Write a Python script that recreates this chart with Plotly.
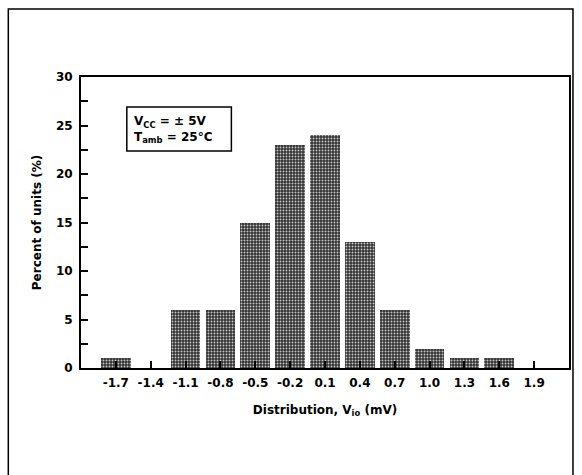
import plotly.graph_objects as go

# Input offset voltage distribution (histogram of units)
bins_mv = ["-1.7", "-1.4", "-1.1", "-0.8", "-0.5", "-0.2", "0.1", "0.4", "0.7", "1.0", "1.3", "1.6", "1.9"]
percent_units = [1, 0, 6, 6, 15, 23, 24, 13, 6, 2, 1, 1, 0]
y_ticks = [0, 5, 10, 15, 20, 25, 30]

x_vals = [float(b) for b in bins_mv]

FONT = "DejaVu Sans, Verdana, sans-serif"
TXT = dict(family=FONT, size=12, color="black", weight="bold")

# plot-area pixel box, used to place the outer frame and legend box in paper units
L, R, T, B = 81, 571, 77, 368
W, H = R - L, B - T


def px(x):
    return (x - L) / W


def py(y):
    return (B - y) / H


fig = go.Figure(
    go.Bar(
        x=x_vals,
        y=percent_units,
        width=0.255,
        marker=dict(
            color="#303030",
            line=dict(width=0),
            pattern=dict(shape=".", fgcolor="#c4c4c4", bgcolor="#303030",
                         size=3, solidity=0.35, fillmode="replace"),
        ),
        hoverinfo="x+y",
    )
)

fig.update_layout(
    width=582,
    height=475,
    margin=dict(l=L, r=582 - R, t=T, b=475 - B),
    paper_bgcolor="white",
    plot_bgcolor="white",
    showlegend=False,
    bargap=0,
    font=TXT,
    xaxis=dict(
        range=[-2.0, 2.2],
        tickvals=x_vals,
        ticktext=bins_mv,
        ticks="inside",
        ticklen=7,
        tickwidth=1.5,
        tickcolor="black",
        showline=True,
        linewidth=2,
        linecolor="black",
        mirror=True,
        showgrid=False,
        zeroline=False,
        ticklabelstandoff=3,
        tickfont=TXT,
        title=dict(text="Distribution, V<sub>io</sub> (mV)", font=TXT, standoff=16),
    ),
    yaxis=dict(
        range=[0, 30],
        tickvals=y_ticks,
        ticks="inside",
        ticklen=7,
        tickwidth=1.5,
        tickcolor="black",
        minor=dict(dtick=2.5, ticks="inside", ticklen=7, tickwidth=1.5, tickcolor="black"),
        showline=True,
        linewidth=2,
        linecolor="black",
        mirror=True,
        showgrid=False,
        zeroline=False,
        ticklabelstandoff=4,
        tickfont=TXT,
        title=dict(text="Percent of units (%)", font=TXT, standoff=12),
    ),
    shapes=[
        # outer frame around the whole figure
        dict(type="rect", xref="paper", yref="paper",
             x0=px(8), x1=px(575), y0=py(500), y1=py(9),
             line=dict(color="black", width=1.5), fillcolor="rgba(0,0,0,0)"),
        # conditions box
        dict(type="rect", xref="paper", yref="paper",
             x0=px(127), x1=px(232), y0=py(151), y1=py(107),
             line=dict(color="black", width=1.5), fillcolor="white"),
    ],
    annotations=[
        dict(xref="paper", yref="paper", x=px(132), y=py(129),
             xanchor="left", yanchor="middle", align="left", showarrow=False,
             text="V<sub>CC</sub> = ± 5V<br>T<sub>amb</sub> = 25°C",
             font=TXT),
    ],
)

fig.write_html("out.html")
